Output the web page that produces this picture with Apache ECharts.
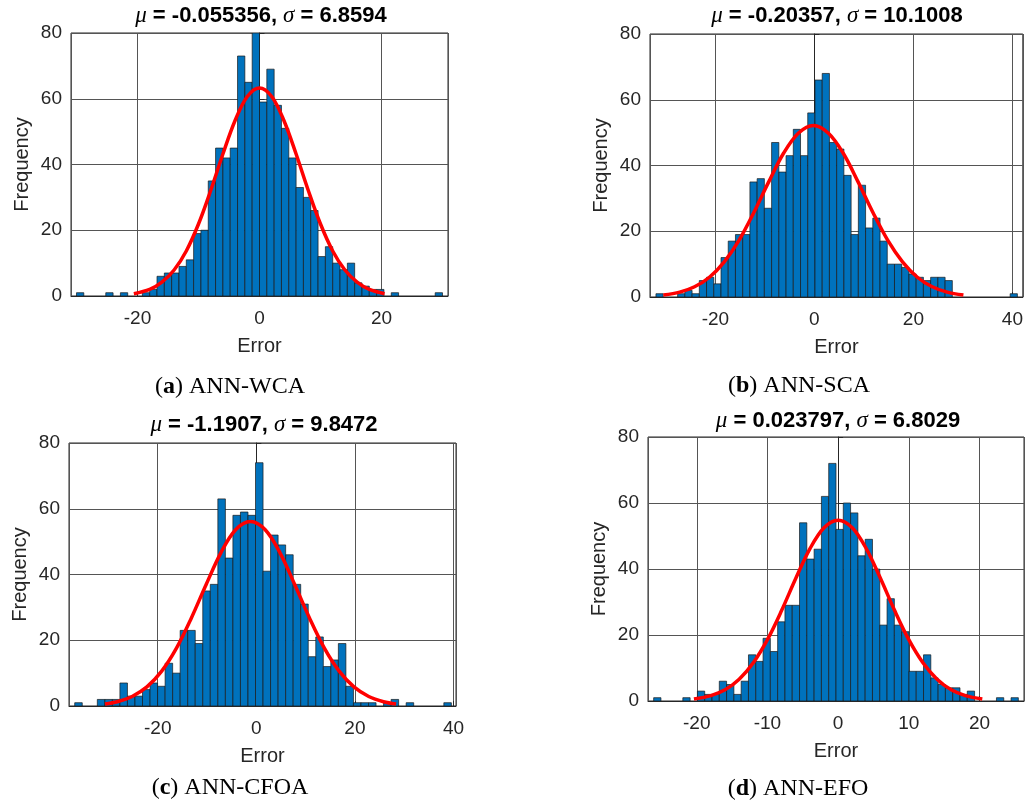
<!DOCTYPE html>
<html>
<head>
<meta charset="utf-8">
<script src="https://cdn.jsdelivr.net/npm/echarts@6/dist/echarts.min.js"></script>
<style>
html,body{margin:0;padding:0;background:#fff;}
#chart{width:1026px;height:805px;}
</style>
</head>
<body>
<div id="chart"></div>
<script>
// ---------- DATA ----------
// Histogram counts (50 bins each), bin start and width
const countsA = [1,0,0,0,1,0,1,0,0,1,2,6,7,7,9,11,19,20,35,45,42,45,73,65,80,59,69,58,51,42,33,30,26,12,15,10,8,10,4,3,2,2,0,1,0,0,0,0,0,1];
const binStartA = -30.0, binWidthA = 1.2;
const countsB = [1,0,0,1,2,1,5,6,4,12,17,19,19,35,36,27,47,38,43,51,43,56,66,68,47,45,37,19,34,21,24,17,10,10,9,7,6,5,6,6,5,0,0,0,0,0,0,0,0,1];
const binStartB = -32.0, binWidthB = 1.46;
const countsC = [1,0,0,2,2,2,7,3,3,5,7,6,13,10,23,23,19,35,37,63,45,58,59,58,74,41,52,49,46,37,31,15,21,12,14,19,6,1,1,1,0,1,2,0,1,0,0,0,0,1];
const binStartC = -36.84, binWidthC = 1.528;
const countsD = [1,0,0,0,1,0,3,2,2,6,5,2,6,14,12,19,15,24,29,29,54,43,46,62,72,52,60,57,44,49,40,23,31,23,21,9,9,14,7,5,4,4,2,3,0,0,0,1,0,1];
const binStartD = -26.1, binWidthD = 1.032;

// Fitted normal curves
const curveXA = [-20.6,-18,-16,-14,-12,-10,-8,-6,-4,-2,0,2,4,6,8,10,12,14,16,18,20.5];
const curveYA = [0.7,2.0,4.2,7.9,13.7,21.9,32.1,43.2,53.4,60.7,63.3,60.7,53.4,43.2,32.1,21.9,13.7,7.9,4.2,2.0,0.7];
const curveXB = [-30.5,-27.2,-24.2,-21.2,-18.2,-15.2,-12.2,-9.2,-6.2,-3.2,-0.2,2.8,5.8,8.8,11.8,14.8,17.8,20.8,23.8,26.8,30.1];
const curveYB = [0.58,1.47,3.1,6.0,10.7,17.3,25.8,35.1,43.8,49.9,52.2,49.9,43.8,35.1,25.8,17.3,10.7,6.0,3.1,1.47,0.58];
const curveXC = [-30.7,-28.2,-25.2,-22.2,-19.2,-16.2,-13.2,-10.2,-7.2,-4.2,-1.2,1.8,4.8,7.8,10.8,13.8,16.8,19.8,22.8,25.8,28.35];
const curveYC = [0.62,1.3,2.9,5.8,10.6,17.6,26.7,36.9,46.6,53.6,56.1,53.6,46.6,36.9,26.7,17.6,10.6,5.8,2.9,1.3,0.62];
const curveXD = [-20.4,-18,-16,-14,-12,-10,-8,-6,-4,-2,0,2,4,6,8,10,12,14,16,18,20.4];
const curveYD = [0.61,1.65,3.4,6.6,11.6,18.6,27.4,37.1,46.1,52.5,54.8,52.5,46.1,37.1,27.4,18.6,11.6,6.6,3.4,1.65,0.61];

const titles = ['{i|μ} = -0.055356, {i|σ} = 6.8594', '{i|μ} = -0.20357, {i|σ} = 10.1008', '{i|μ} = -1.1907, {i|σ} = 9.8472', '{i|μ} = 0.023797, {i|σ} = 6.8029'];
const captions = ['({b|a}) ANN-WCA', '({b|b}) ANN-SCA', '({b|c}) ANN-CFOA', '({b|d}) ANN-EFO'];
const yTicks = [0, 20, 40, 60, 80];
const xLabel = 'Error', yLabel = 'Frequency';

// ---------- LAYOUT ----------
const panels = [
  {counts: countsA, start: binStartA, width: binWidthA, cx: curveXA, cy: curveYA, xmin: -30.9, xmax: 30.9, step: 20,
   grid: {left: 71, top: 33, width: 377, height: 263}, title: [261, 16], cap: [230, 387]},
  {counts: countsB, start: binStartB, width: binWidthB, cx: curveXB, cy: curveYB, xmin: -33.2, xmax: 42.1, step: 20,
   grid: {left: 650, top: 34, width: 373, height: 263}, title: [837, 16], cap: [799, 386]},
  {counts: countsC, start: binStartC, width: binWidthC, cx: curveXC, cy: curveYC, xmin: -38.0, xmax: 40.5, step: 20,
   grid: {left: 69, top: 443, width: 387, height: 263}, title: [264, 425], cap: [230, 788]},
  {counts: countsD, start: binStartD, width: binWidthD, cx: curveXD, cy: curveYD, xmin: -26.9, xmax: 26.3, step: 10,
   grid: {left: 648, top: 437, width: 376, height: 264}, title: [838, 421], cap: [798, 789]}
];

const FONT = 'Liberation Sans, Arial, Helvetica, sans-serif';
const TXT = '#262626';

const grids = [], xAxes = [], yAxes = [], series = [], graphics = [];
panels.forEach((p, i) => {
  grids.push(Object.assign({show: true, borderColor: TXT, borderWidth: 1, backgroundColor: '#fff', containLabel: false}, p.grid));
  xAxes.push({
    type: 'value', gridIndex: i, min: p.xmin, max: p.xmax, minInterval: p.step, maxInterval: p.step, splitNumber: 4,
    name: xLabel, nameLocation: 'middle', nameGap: 40,
    nameTextStyle: {fontFamily: FONT, fontSize: 20, color: TXT},
    axisLine: {show: true, onZero: false, lineStyle: {color: TXT, width: 1}},
    axisTick: {show: true, inside: true, length: 5, lineStyle: {color: TXT}},
    axisLabel: {fontFamily: FONT, fontSize: 19, color: TXT, margin: 13, showMinLabel: false, showMaxLabel: false},
    splitLine: {show: true, lineStyle: {color: '#555', width: 1}}
  });
  yAxes.push({
    type: 'value', gridIndex: i, min: yTicks[0], max: yTicks[yTicks.length - 1], interval: yTicks[1] - yTicks[0],
    name: yLabel, nameLocation: 'middle', nameGap: 39, nameRotate: 90,
    nameTextStyle: {fontFamily: FONT, fontSize: 20, color: TXT},
    axisLine: {show: true, lineStyle: {color: TXT, width: 1}},
    axisTick: {show: true, inside: true, length: 5, lineStyle: {color: TXT}},
    axisLabel: {fontFamily: FONT, fontSize: 19, color: TXT, margin: 9},
    splitLine: {show: true, lineStyle: {color: '#555', width: 1}}
  });
  const barData = p.counts.map((c, k) => [p.start + k * p.width, p.start + (k + 1) * p.width, c]);
  series.push({
    type: 'custom', xAxisIndex: i, yAxisIndex: i, data: barData, encode: {x: [0, 1], y: 2}, clip: true,
    renderItem: function (params, api) {
      const h = api.value(2);
      if (!h) return null;
      const p0 = api.coord([api.value(0), h]);
      const p1 = api.coord([api.value(1), 0]);
      return {type: 'rect', shape: {x: p0[0], y: p0[1], width: p1[0] - p0[0], height: p1[1] - p0[1]},
        style: {fill: '#0072BD', stroke: '#1a1a1a', lineWidth: 0.7}};
    }
  });
  series.push({
    type: 'line', xAxisIndex: i, yAxisIndex: i, data: p.cx.map((x, k) => [x, p.cy[k]]),
    smooth: 0.35, symbol: 'none', lineStyle: {color: '#ff0000', width: 3.5}, z: 5
  });
  graphics.push({
    type: 'text', x: p.title[0], y: p.title[1], z: 10,
    style: {text: titles[i], fontFamily: FONT, fontSize: 22, fontWeight: 'bold', fill: '#000',
      align: 'center', verticalAlign: 'middle', textAlign: 'center', textVerticalAlign: 'middle',
      rich: {i: {fontFamily: 'Liberation Serif, serif', fontStyle: 'italic', fontSize: 23, fill: '#000'}}}
  });
  graphics.push({
    type: 'text', x: p.cap[0], y: p.cap[1], z: 10,
    style: {text: captions[i], fontFamily: 'Liberation Serif, Times New Roman, serif', fontSize: 24, fill: '#000',
      align: 'center', verticalAlign: 'middle', textAlign: 'center', textVerticalAlign: 'middle',
      rich: {b: {fontFamily: 'Liberation Serif, serif', fontWeight: 'bold', fontSize: 24, fill: '#000'}}}
  });
});

const chart = echarts.init(document.getElementById('chart'), null, {renderer: 'canvas'});
chart.setOption({
  animation: false,
  backgroundColor: '#fff',
  grid: grids, xAxis: xAxes, yAxis: yAxes, series: series, graphic: graphics
});
</script>
</body>
</html>
